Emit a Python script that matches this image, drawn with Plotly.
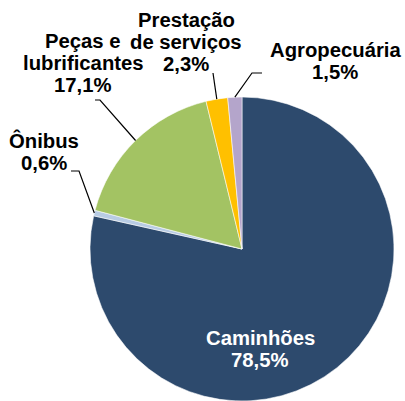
import math
import plotly.graph_objects as go

# ---- data ----
categories = ["Caminhões", "Ônibus", "Peças e lubrificantes", "Prestação de serviços", "Agropecuária"]
shares = [78.5, 0.6, 17.1, 2.3, 1.5]
label_lines = [["Caminhões"], ["Ônibus"], ["Peças e", "lubrificantes"], ["Prestação", "de serviços"], ["Agropecuária"]]

# ---- style ----
colors = ["#2D4A6D", "#B8CCE4", "#A3C363", "#FFC000", "#B4A5CB"]
text_colors = ["white", "black", "black", "black", "black"]
W, H = 405, 401
CX, CY, R = 242, 249, 152
FS = 20.3
LINE = 22
# label placement: centre x, first baseline y, leader points near label (pixels)
label_place = [
    (260, 345, None),
    (44, 148, [(71, 171), (79, 171)]),
    (83, 48, [(95, 100), (100, 100)]),
    (186, 27, [(213, 73)]),
    (335, 57, [(262, 73), (252, 73)]),
]

def px(x):
    return x / W

def py(y):
    return 1 - y / H

fig = go.Figure(go.Pie(
    labels=categories, values=shares, sort=False, direction="clockwise", rotation=0,
    textinfo="none", hoverinfo="label+percent", showlegend=False,
    marker=dict(colors=colors, line=dict(color="rgba(255,255,255,0.55)", width=1)),
    domain=dict(x=[px(CX - R), px(CX + R)], y=[py(CY + R), py(CY - R)]),
))

annotations = []
shapes = []
total = sum(shares)
cum = 0.0
for i, (cat, v) in enumerate(zip(categories, shares)):
    mid = (cum + v / 2) / total
    cum += v
    cx, by, leader = label_place[i]
    lines = label_lines[i] + [f"{v:.1f}".replace(".", ",") + "%"]
    for k, t in enumerate(lines):
        yb = by + k * LINE
        annotations.append(dict(
            x=px(cx), y=py(yb - 0.35 * FS), xref="paper", yref="paper",
            text=f"<b>{t}</b>", showarrow=False, xanchor="center", yanchor="middle",
            font=dict(family="Liberation Sans, Arial, sans-serif", size=FS, color=text_colors[i]),
        ))
    if leader:
        ang = 2 * math.pi * mid
        ex = CX + R * math.sin(ang)
        ey = CY - R * math.cos(ang)
        pts = leader + [(ex, ey)]
        path = "M " + " L ".join(f"{px(a):.4f},{py(b):.4f}" for a, b in pts)
        shapes.append(dict(type="path", path=path, xref="paper", yref="paper",
                           line=dict(color="black", width=1.2)))

fig.update_layout(
    width=W, height=H, margin=dict(l=0, r=0, t=0, b=0),
    paper_bgcolor="white", plot_bgcolor="white",
    annotations=annotations, shapes=shapes,
)
fig.write_html(
    "out.html",
    config={"displayModeBar": False},
    post_script="document.body.style.margin='0';document.body.style.overflow='hidden';",
)
